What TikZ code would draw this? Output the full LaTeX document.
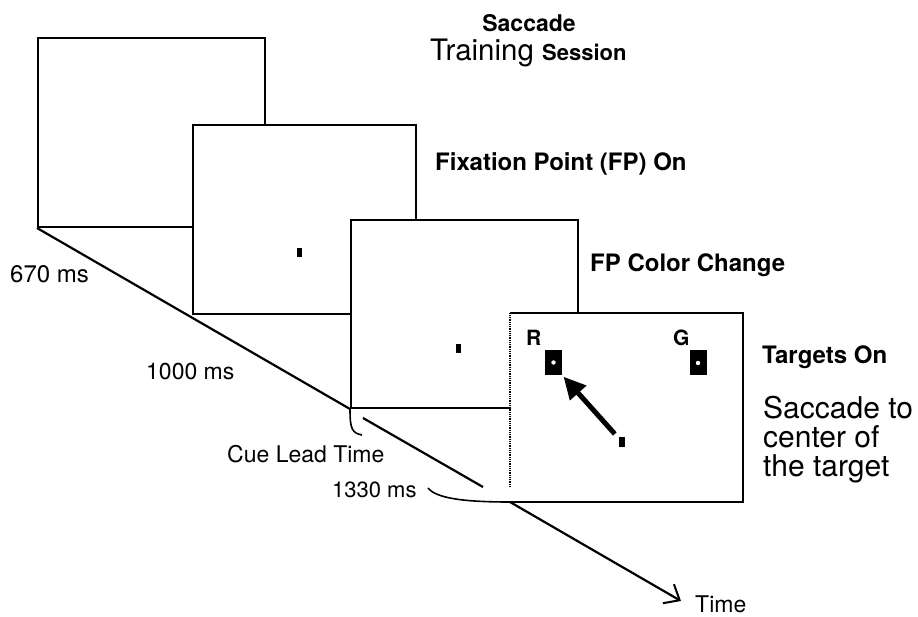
\documentclass[tikz,border=0pt]{standalone}
\usepackage{fontspec}
\setmainfont{TeX Gyre Heros}
\usepackage{tikz}
\usetikzlibrary{arrows.meta, positioning, calc}
\definecolor{ink}{HTML}{000000}

\begin{document}
\begin{tikzpicture}[x=1pt, y=-1pt,
  every node/.style={color=ink, inner sep=0pt},
  screen/.style={
    rectangle, draw=ink, fill=white, line width=1.8pt,
    minimum width=227pt, minimum height=189pt, anchor=south west
  },
  fpdot/.style={rectangle, fill=ink, minimum width=5pt, minimum height=9pt},
  target/.style={rectangle, fill=ink, minimum width=17pt, minimum height=25pt},
  lab/.style={font=\fontsize{23}{23}\selectfont, anchor=base west},
  blab/.style={font=\bfseries\fontsize{24}{24}\selectfont, anchor=base west},
  timeline/.style={line width=2.2pt, color=ink}
]
\useasboundingbox (0,0) rectangle (918,617);

% time axis pieces
\coordinate (gap1) at (363,418);
\coordinate (gap1end) at (483,487);
\coordinate (tend) at (681,601);

% screens, back to front
\node[screen] (scr1) at (37,228) {};
\node[screen, minimum width=223pt] (scr2) at (192,315) {};
\node[screen, minimum height=188pt] (scr3) at (350,409) {};
\node[screen, minimum width=231pt, minimum height=187pt, draw=none] (scr4) at (510,502) {};
\draw[line width=1.8pt] (scr4.north west) -- (scr4.north east) -- (scr4.south east) -- (scr4.south west);
\draw[line width=1.6pt, dash pattern=on 1pt off 0.8pt] (scr4.north west) -- ([yshift=15pt]scr4.south west);

% time line
\draw[timeline] (scr1.south west) -- (scr3.south west);
\draw[timeline] (gap1) -- (gap1end);
\draw[timeline, -{Straight Barb[length=13pt, width=22pt, line width=2pt]}] (scr4.south west) -- (tend);

% lead-time hooks
\coordinate (cueend) at (362,435);
\draw[line width=1.6pt] (scr3.south west) .. controls ($(scr3.south west)+(0,20)$) and (352,433) .. (cueend);
\coordinate (tick1330) at (428,488);
\draw[line width=1.6pt] (tick1330) .. controls (436,498) and (462,502) .. (scr4.south west);

% fixation points
\node[fpdot] (fp2) at (299,253) {};
\node[fpdot] (fp3) at (458,349) {};
\node[fpdot, minimum width=6pt, minimum height=10pt] (fp4) at (622,442) {};

% targets
\node[target] (tgR) at (553.5,362.5) {};
\node[target] (tgG) at (698,363) {};
\fill[white] (tgR.center) circle (2.2pt);
\fill[white] (tgG.center) circle (2.2pt);
\node[font=\bfseries\fontsize{21}{21}\selectfont, anchor=base west] (lR) at (526,345) {R};
\node[font=\bfseries\fontsize{21}{21}\selectfont, anchor=base west] (lG) at (673,345) {G};

% saccade
\draw[line width=5pt, shorten <=6pt, shorten >=2pt, -{Triangle[length=22pt, width=21pt]}] (fp4) -- (tgR.south east);

% titles and labels
\node[font=\bfseries\fontsize{23}{23}\selectfont, anchor=base] (ttl1) at (529,32) {Saccade};
\node[font=\fontsize{29.5}{29.5}\selectfont, anchor=base west] (ttl2) at (430,61) {Training {\bfseries\fontsize{22}{22}\selectfont Session}};
\node[blab] (cap2) at (435,171) {Fixation Point (FP) On};
\node[blab] (cap3) at (590,272) {FP Color Change};
\node[blab] (cap4) at (762,363) {Targets On};
\node[font=\fontsize{30}{29}\selectfont, align=left, anchor=north west] (note4) at (763,395.5) {Saccade to\\center of\\the target};

\node[lab, font=\fontsize{24}{24}\selectfont] (t670) at (10,283) {670 ms};
\node[lab] (t1000) at (146,379) {1000 ms};
\node[lab] (tcue) at (227,462) {Cue Lead Time};
\node[lab, font=\fontsize{22}{22}\selectfont] (t1330) at (332,497) {1330 ms};
\node[lab] (ttime) at (695,612) {Time};
\end{tikzpicture}
\end{document}
